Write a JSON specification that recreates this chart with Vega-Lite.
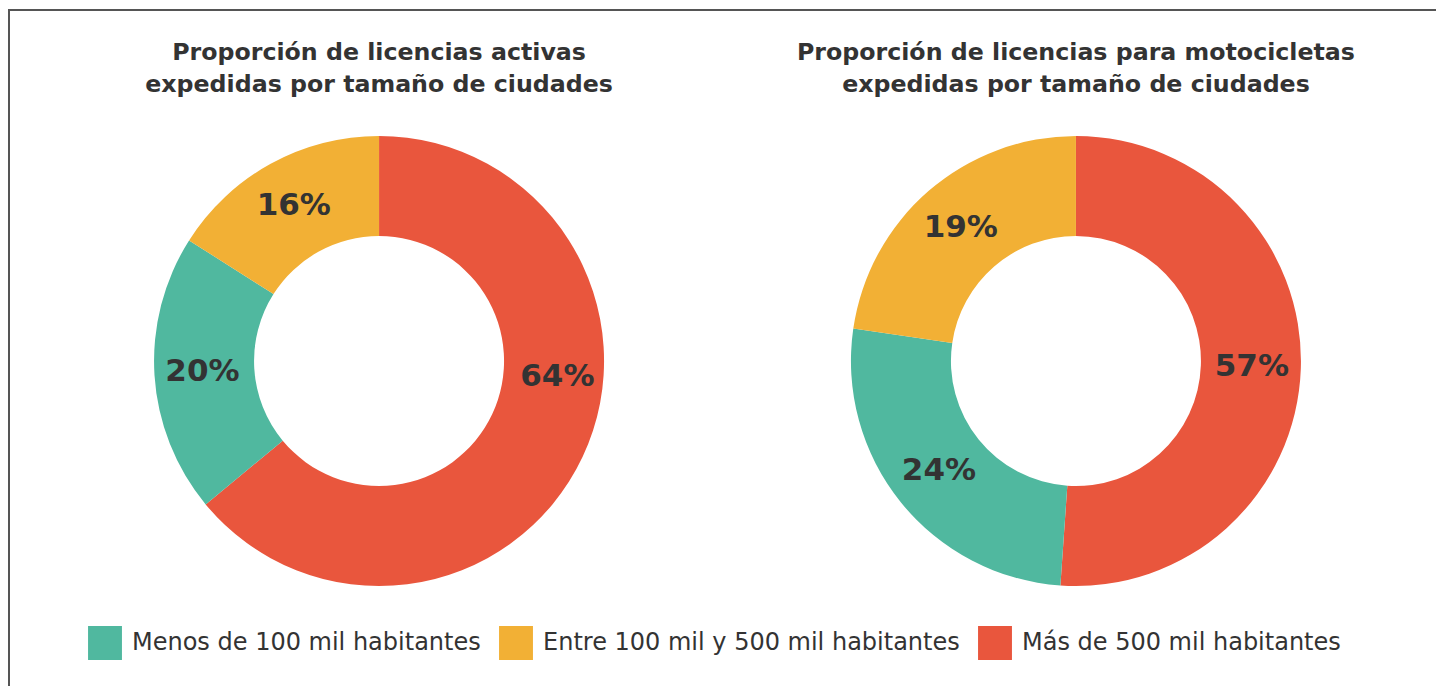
{
  "$schema": "https://vega.github.io/schema/vega-lite/v6.json",
  "width": 1437,
  "height": 702,
  "autosize": {"type": "none"},
  "padding": {"left": 9, "top": 10, "right": 0, "bottom": 0},
  "background": "white",
  "config": {
    "view": {"stroke": "#555555", "strokeWidth": 2},
    "legend": {
      "orient": "none",
      "legendX": 79,
      "legendY": 616,
      "direction": "horizontal",
      "symbolType": "square",
      "symbolSize": 1150,
      "symbolStrokeWidth": 0,
      "labelFontSize": 24,
      "labelFont": "DejaVu Sans",
      "labelColor": "#333333",
      "labelLimit": 600,
      "labelOffset": 10,
      "columnPadding": 18,
      "padding": 0
    }
  },
  "datasets": {
    "d": [
      {"grafico": "activas", "categoria": "Más de 500 mil habitantes", "valor": 64, "etiqueta": "64%", "orden": 1},
      {"grafico": "activas", "categoria": "Menos de 100 mil habitantes", "valor": 20, "etiqueta": "20%", "orden": 2},
      {"grafico": "activas", "categoria": "Entre 100 mil y 500 mil habitantes", "valor": 16, "etiqueta": "16%", "orden": 3},
      {"grafico": "motocicletas", "categoria": "Más de 500 mil habitantes", "valor": 51.1, "etiqueta": "57%", "orden": 1},
      {"grafico": "motocicletas", "categoria": "Menos de 100 mil habitantes", "valor": 26.2, "etiqueta": "24%", "orden": 2},
      {"grafico": "motocicletas", "categoria": "Entre 100 mil y 500 mil habitantes", "valor": 22.7, "etiqueta": "19%", "orden": 3}
    ],
    "t": [
      {"grafico": "activas", "titulo": "Proporción de licencias activas\nexpedidas por tamaño de ciudades"},
      {"grafico": "motocicletas", "titulo": "Proporción de licencias para motocicletas\nexpedidas por tamaño de ciudades"}
    ]
  },
  "encoding": {
    "x": {"field": "grafico", "type": "nominal", "axis": null, "scale": {"type": "point", "domain": ["activas", "motocicletas"], "padding": 0.531}}
  },
  "layer": [
    {
      "data": {"name": "d"},
      "transform": [{"filter": "datum.grafico == 'activas'"}],
      "mark": {"type": "arc", "innerRadius": 125, "outerRadius": 225},
      "encoding": {
        "theta": {"field": "valor", "type": "quantitative", "stack": true},
        "order": {"field": "orden", "type": "quantitative"},
        "color": {
          "field": "categoria", "type": "nominal", "title": null,
          "scale": {
            "domain": ["Menos de 100 mil habitantes", "Entre 100 mil y 500 mil habitantes", "Más de 500 mil habitantes"],
            "range": ["#50B89F", "#F2B035", "#E9563D"]
          }
        }
      }
    },
    {
      "data": {"name": "d"},
      "transform": [{"filter": "datum.grafico == 'motocicletas'"}],
      "mark": {"type": "arc", "innerRadius": 125, "outerRadius": 225},
      "encoding": {
        "theta": {"field": "valor", "type": "quantitative", "stack": true},
        "order": {"field": "orden", "type": "quantitative"},
        "color": {"field": "categoria", "type": "nominal"}
      }
    },
    {
      "data": {"name": "d"},
      "transform": [{"filter": "datum.grafico == 'activas'"}],
      "mark": {"type": "text", "radius": 177, "font": "DejaVu Sans", "fontWeight": "bold", "fontSize": 31, "fill": "#333333", "align": "center", "baseline": "middle"},
      "encoding": {
        "theta": {"field": "valor", "type": "quantitative", "stack": true},
        "order": {"field": "orden", "type": "quantitative"},
        "text": {"condition": {"test": "datum.orden == 1", "value": ""}, "field": "etiqueta", "type": "nominal"}
      }
    },
    {
      "data": {"name": "d"},
      "transform": [{"filter": "datum.grafico == 'activas' && datum.orden == 1"}],
      "mark": {"type": "text", "radius": 179, "thetaOffset": -0.35, "font": "DejaVu Sans", "fontWeight": "bold", "fontSize": 31, "fill": "#333333", "align": "center", "baseline": "middle"},
      "encoding": {
        "theta": {"field": "valor", "type": "quantitative", "stack": true},
        "order": {"field": "orden", "type": "quantitative"},
        "text": {"field": "etiqueta", "type": "nominal"}
      }
    },
    {
      "data": {"name": "d"},
      "transform": [{"filter": "datum.grafico == 'motocicletas'"}],
      "mark": {"type": "text", "radius": 176, "font": "DejaVu Sans", "fontWeight": "bold", "fontSize": 31, "fill": "#333333", "align": "center", "baseline": "middle"},
      "encoding": {
        "theta": {"field": "valor", "type": "quantitative", "stack": true},
        "order": {"field": "orden", "type": "quantitative"},
        "text": {"field": "etiqueta", "type": "nominal"}
      }
    },
    {
      "data": {"name": "t"},
      "mark": {"type": "text", "lineBreak": "\n", "lineHeight": 32, "dy": -301, "font": "DejaVu Sans", "fontWeight": "bold", "fontSize": 23.7, "fill": "#333333", "align": "center", "baseline": "alphabetic"},
      "encoding": {
        "text": {"field": "titulo", "type": "nominal"}
      }
    }
  ]
}
